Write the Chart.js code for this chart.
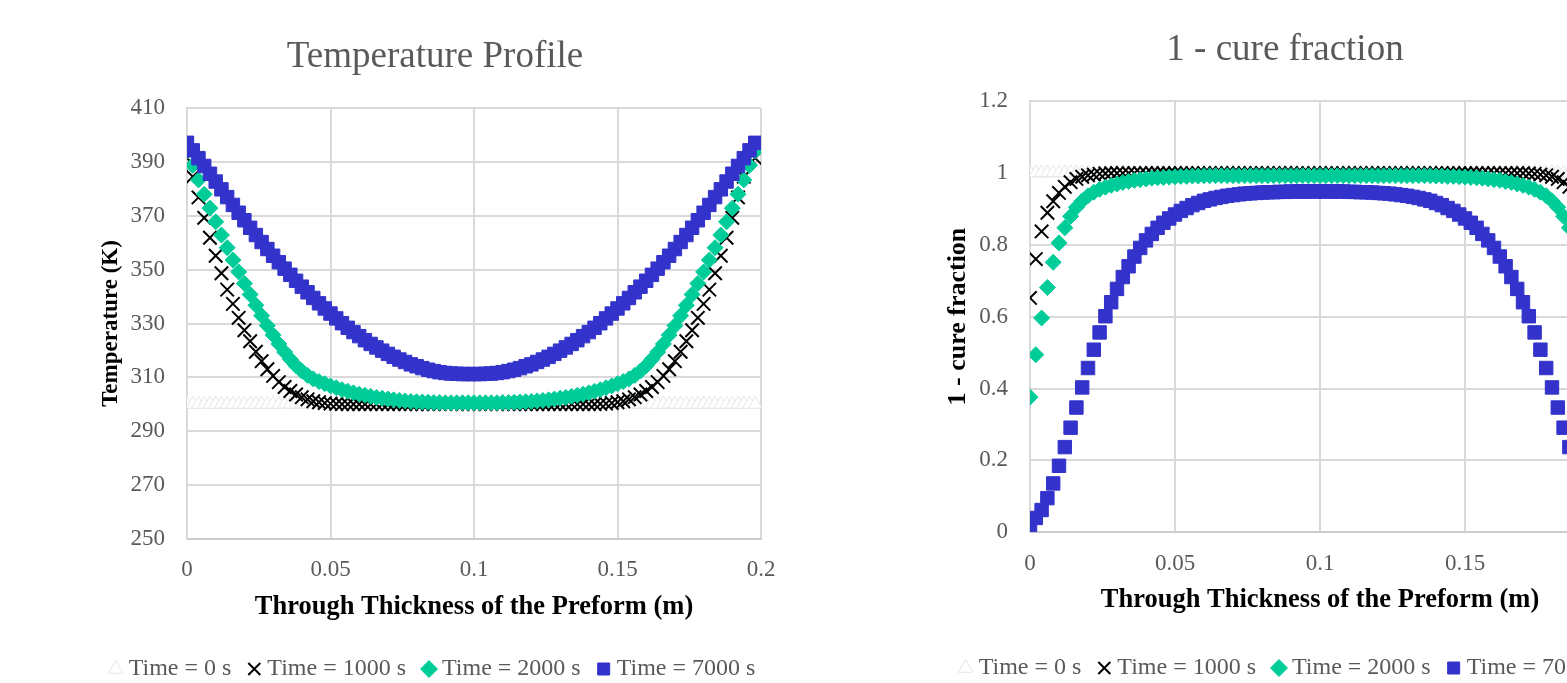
<!DOCTYPE html>
<html>
<head>
<meta charset="utf-8">
<script src="https://cdn.jsdelivr.net/npm/chart.js@4.4.0/dist/chart.umd.min.js"></script>
<style>
  html, body { margin: 0; padding: 0; background: #fff; overflow: hidden; width: 1567px; height: 683px; }
  canvas { position: absolute; top: 0; }
  #tempChart { left: 0; }
  #cureChart { left: 850px; }
</style>
</head>
<body>
<canvas id="tempChart" width="850" height="683"></canvas>
<canvas id="cureChart" width="850" height="683"></canvas>
<script>
// positions through the preform (m)
const xs = [
  0, 0.002, 0.004, 0.006, 0.008, 0.01, 0.012, 0.014, 0.016, 0.018,
  0.02, 0.022, 0.024, 0.026, 0.028, 0.03, 0.032, 0.034, 0.036, 0.038,
  0.04, 0.042, 0.044, 0.046, 0.048, 0.05, 0.052, 0.054, 0.056, 0.058,
  0.06, 0.062, 0.064, 0.066, 0.068, 0.07, 0.072, 0.074, 0.076, 0.078,
  0.08, 0.082, 0.084, 0.086, 0.088, 0.09, 0.092, 0.094, 0.096, 0.098,
  0.1, 0.102, 0.104, 0.106, 0.108, 0.11, 0.112, 0.114, 0.116, 0.118,
  0.12, 0.122, 0.124, 0.126, 0.128, 0.13, 0.132, 0.134, 0.136, 0.138,
  0.14, 0.142, 0.144, 0.146, 0.148, 0.15, 0.152, 0.154, 0.156, 0.158,
  0.16, 0.162, 0.164, 0.166, 0.168, 0.17, 0.172, 0.174, 0.176, 0.178,
  0.18, 0.182, 0.184, 0.186, 0.188, 0.19, 0.192, 0.194, 0.196, 0.198
];

const seriesNames = ['Time = 0 s', 'Time = 1000 s', 'Time = 2000 s', 'Time = 7000 s'];

// temperature (K)
const temp0 = [
  300, 300, 300, 300, 300, 300, 300, 300, 300, 300,
  300, 300, 300, 300, 300, 300, 300, 300, 300, 300,
  300, 300, 300, 300, 300, 300, 300, 300, 300, 300,
  300, 300, 300, 300, 300, 300, 300, 300, 300, 300,
  300, 300, 300, 300, 300, 300, 300, 300, 300, 300,
  300, 300, 300, 300, 300, 300, 300, 300, 300, 300,
  300, 300, 300, 300, 300, 300, 300, 300, 300, 300,
  300, 300, 300, 300, 300, 300, 300, 300, 300, 300,
  300, 300, 300, 300, 300, 300, 300, 300, 300, 300,
  300, 300, 300, 300, 300, 300, 300, 300, 300, 300
];
const temp1000 = [
  391.5, 384.6, 376.9, 369.3, 361.9, 355.2, 348.7, 342.6, 337.3, 332.1,
  327.5, 323.4, 319.5, 316.0, 313.0, 310.5, 308.2, 306.4, 304.9, 303.6,
  302.6, 301.8, 301.1, 300.7, 300.4, 300.2, 300.1, 300.0, 300.0, 300.0,
  300.0, 300.0, 300.0, 300.0, 300.0, 300.0, 300.0, 300.0, 300.0, 300.0,
  300.0, 300.0, 300.0, 300.0, 300.0, 300.0, 300.0, 300.0, 300.0, 300.0,
  300.0, 300.0, 300.0, 300.0, 300.0, 300.0, 300.0, 300.0, 300.0, 300.0,
  300.0, 300.0, 300.0, 300.0, 300.0, 300.0, 300.0, 300.0, 300.0, 300.0,
  300.0, 300.0, 300.1, 300.2, 300.4, 300.7, 301.1, 301.8, 302.6, 303.6,
  304.9, 306.4, 308.2, 310.5, 313.0, 316.0, 319.5, 323.4, 327.5, 332.1,
  337.3, 342.6, 348.7, 355.2, 361.9, 369.3, 376.9, 384.6, 391.5, 391.5
];
const temp2000 = [
  394.2, 388.8, 383.4, 378.1, 372.9, 367.8, 362.9, 358.2, 353.6, 349.2,
  344.9, 340.8, 336.8, 332.9, 329.2, 325.7, 322.4, 319.4, 316.7, 314.3,
  312.3, 310.7, 309.4, 308.4, 307.6, 306.8, 306.1, 305.4, 304.8, 304.2,
  303.7, 303.3, 302.9, 302.5, 302.2, 301.9, 301.6, 301.4, 301.2, 301.0,
  300.9, 300.8, 300.7, 300.6, 300.6, 300.5, 300.5, 300.5, 300.5, 300.5,
  300.5, 300.5, 300.5, 300.5, 300.5, 300.6, 300.6, 300.7, 300.8, 300.9,
  301.0, 301.2, 301.4, 301.6, 301.9, 302.2, 302.5, 302.9, 303.3, 303.7,
  304.2, 304.8, 305.4, 306.1, 306.8, 307.6, 308.4, 309.4, 310.7, 312.3,
  314.3, 316.7, 319.4, 322.4, 325.7, 329.2, 332.9, 336.8, 340.8, 344.9,
  349.2, 353.6, 358.2, 362.9, 367.8, 372.9, 378.1, 383.4, 388.8, 394.2
];
const temp7000 = [
  397.2, 394.4, 391.5, 388.6, 385.7, 382.8, 379.9, 377.0, 374.1, 371.2,
  368.4, 365.6, 362.9, 360.3, 357.7, 355.2, 352.8, 350.4, 348.1, 345.9,
  343.7, 341.6, 339.5, 337.5, 335.6, 333.7, 331.9, 330.1, 328.4, 326.8,
  325.3, 323.8, 322.4, 321.1, 319.9, 318.7, 317.6, 316.6, 315.7, 314.8,
  314.1, 313.4, 312.8, 312.3, 311.9, 311.6, 311.4, 311.3, 311.2, 311.2,
  311.2, 311.2, 311.3, 311.4, 311.6, 311.9, 312.3, 312.8, 313.4, 314.1,
  314.8, 315.7, 316.6, 317.6, 318.7, 319.9, 321.1, 322.4, 323.8, 325.3,
  326.8, 328.4, 330.1, 331.9, 333.7, 335.6, 337.5, 339.5, 341.6, 343.7,
  345.9, 348.1, 350.4, 352.8, 355.2, 357.7, 360.3, 362.9, 365.6, 368.4,
  371.2, 374.1, 377.0, 379.9, 382.8, 385.7, 388.6, 391.5, 394.4, 397.2
];

// 1 - cure fraction
const cure0 = [
  1, 1, 1, 1, 1, 1, 1, 1, 1, 1,
  1, 1, 1, 1, 1, 1, 1, 1, 1, 1,
  1, 1, 1, 1, 1, 1, 1, 1, 1, 1,
  1, 1, 1, 1, 1, 1, 1, 1, 1, 1,
  1, 1, 1, 1, 1, 1, 1, 1, 1, 1,
  1, 1, 1, 1, 1, 1, 1, 1, 1, 1,
  1, 1, 1, 1, 1, 1, 1, 1, 1, 1,
  1, 1, 1, 1, 1, 1, 1, 1, 1, 1,
  1, 1, 1, 1, 1, 1, 1, 1, 1, 1,
  1, 1, 1, 1, 1, 1, 1, 1, 1, 1
];
const cure1000 = [
  0.652, 0.760, 0.837, 0.889, 0.921, 0.944, 0.961, 0.974, 0.983, 0.989,
  0.993, 0.995, 0.997, 0.998, 0.999, 0.999, 0.999, 0.999, 0.999, 0.999,
  0.999, 0.999, 0.999, 0.999, 0.999, 0.999, 0.999, 0.999, 0.999, 0.999,
  0.999, 0.999, 0.999, 0.999, 0.999, 0.999, 0.999, 0.999, 0.999, 0.999,
  0.999, 0.999, 0.999, 0.999, 0.999, 0.999, 0.999, 0.999, 0.999, 0.999,
  0.999, 0.999, 0.999, 0.999, 0.999, 0.999, 0.999, 0.999, 0.999, 0.999,
  0.999, 0.999, 0.999, 0.999, 0.999, 0.999, 0.999, 0.999, 0.999, 0.999,
  0.999, 0.999, 0.999, 0.999, 0.999, 0.999, 0.999, 0.999, 0.999, 0.999,
  0.999, 0.999, 0.999, 0.999, 0.999, 0.999, 0.998, 0.997, 0.995, 0.993,
  0.989, 0.983, 0.974, 0.961, 0.944, 0.921, 0.889, 0.837, 0.760, 0.652
];
const cure2000 = [
  0.376, 0.494, 0.596, 0.681, 0.751, 0.805, 0.847, 0.879, 0.904, 0.922,
  0.936, 0.946, 0.954, 0.960, 0.965, 0.969, 0.973, 0.976, 0.979, 0.981,
  0.983, 0.985, 0.986, 0.987, 0.988, 0.989, 0.990, 0.990, 0.991, 0.991,
  0.992, 0.992, 0.992, 0.992, 0.992, 0.992, 0.992, 0.992, 0.992, 0.992,
  0.992, 0.992, 0.992, 0.992, 0.992, 0.992, 0.992, 0.992, 0.992, 0.992,
  0.992, 0.992, 0.992, 0.992, 0.992, 0.992, 0.992, 0.992, 0.992, 0.992,
  0.992, 0.992, 0.992, 0.992, 0.992, 0.992, 0.992, 0.992, 0.992, 0.992,
  0.991, 0.991, 0.990, 0.990, 0.989, 0.988, 0.987, 0.986, 0.985, 0.983,
  0.981, 0.979, 0.976, 0.973, 0.969, 0.965, 0.960, 0.954, 0.946, 0.936,
  0.922, 0.904, 0.879, 0.847, 0.805, 0.751, 0.681, 0.596, 0.494, 0.376
];
const cure7000 = [
  0.020, 0.040, 0.062, 0.095, 0.136, 0.185, 0.237, 0.291, 0.347, 0.403,
  0.457, 0.508, 0.556, 0.601, 0.640, 0.677, 0.710, 0.740, 0.767, 0.791,
  0.812, 0.830, 0.847, 0.861, 0.873, 0.884, 0.894, 0.902, 0.910, 0.916,
  0.922, 0.926, 0.930, 0.933, 0.936, 0.938, 0.940, 0.942, 0.943, 0.944,
  0.945, 0.946, 0.946, 0.947, 0.947, 0.948, 0.948, 0.948, 0.948, 0.948,
  0.948, 0.948, 0.948, 0.948, 0.948, 0.947, 0.947, 0.946, 0.946, 0.945,
  0.944, 0.943, 0.942, 0.940, 0.938, 0.936, 0.933, 0.930, 0.926, 0.922,
  0.916, 0.910, 0.902, 0.894, 0.884, 0.873, 0.861, 0.847, 0.830, 0.812,
  0.791, 0.767, 0.740, 0.710, 0.677, 0.640, 0.601, 0.556, 0.508, 0.457,
  0.403, 0.347, 0.291, 0.237, 0.185, 0.136, 0.095, 0.062, 0.040, 0.020
];

const serif = "'Liberation Serif', 'Times New Roman', serif";
const gray = '#595959';
const gridColor = '#d9d9d9';

const styles = [
  { pointStyle: 'triangle', pointRadius: 8, backgroundColor: '#ffffff', borderColor: '#e6e6e6', borderWidth: 1, order: 4 },
  { pointStyle: 'crossRot', pointRadius: 9.5, backgroundColor: '#000000', borderColor: '#000000', borderWidth: 2, order: 3 },
  { pointStyle: 'rectRot', pointRadius: 8, backgroundColor: '#00CC99', borderColor: '#00CC99', borderWidth: 1, order: 2 },
  { pointStyle: 'rect', pointRadius: 9.5, backgroundColor: '#3333CC', borderColor: '#3333CC', borderWidth: 1, order: 1 }
];

function toPoints(values) {
  return xs.map((x, i) => ({ x: x, y: values[i] }));
}

function tickText(v) {
  return String(Number(v.toFixed(3)));
}

function makeChart(id, title, yTitle, series, yMin, yMax, yStep, lay) {
  const datasets = series.map((vals, i) => Object.assign({
    label: seriesNames[i],
    data: toPoints(vals),
    pointHoverRadius: styles[i].pointRadius,
    pointBorderWidth: styles[i].borderWidth
  }, styles[i]));

  return new Chart(document.getElementById(id), {
    type: 'scatter',
    data: { datasets },
    options: {
      responsive: false,
      animation: false,
      layout: { padding: { left: 20, right: 0, top: 0, bottom: lay.bottom } },
      plugins: {
        tooltip: { enabled: false },
        title: {
          display: true,
          text: title,
          color: gray,
          font: { family: serif, size: 37, weight: 'normal' },
          padding: { top: lay.titleTop, bottom: lay.titleBottom }
        },
        legend: {
          position: 'bottom',
          reverse: true,
          labels: {
            usePointStyle: true,
            boxWidth: 2,
            boxHeight: 12,
            padding: 22,
            color: gray,
            font: { family: serif, size: 24 }
          }
        }
      },
      scales: {
        x: {
          type: 'linear',
          min: 0,
          max: 0.2,
          afterFit: (s) => { s.height = lay.xHeight; },
          ticks: { stepSize: 0.05, color: gray, padding: lay.xTickPad, font: { family: serif, size: 23 }, callback: tickText },
          grid: { color: gridColor, lineWidth: 2, drawTicks: false },
          border: { color: '#cccccc', width: 2 },
          title: {
            display: true,
            text: 'Through Thickness of the Preform (m)',
            color: '#000',
            font: { family: serif, size: 26.5, weight: 'bold' },
            padding: { top: 0, bottom: lay.xTitleBottom }
          }
        },
        y: {
          min: yMin,
          max: yMax,
          afterFit: (s) => { s.width = lay.yWidth; },
          ticks: { stepSize: yStep, color: gray, padding: 22, font: { family: serif, size: 23 }, callback: tickText },
          grid: { color: gridColor, lineWidth: 2, drawTicks: false },
          border: { color: gridColor, width: 2 },
          title: {
            display: true,
            text: yTitle,
            color: '#000',
            font: { family: serif, size: lay.yTitleSize, weight: 'bold', lineHeight: 1 },
            padding: { top: lay.yTitleShift, bottom: 0 }
          }
        },
        // empty right-hand margin
        yR: {
          position: 'right',
          display: true,
          afterFit: (s) => { s.width = lay.rightWidth; },
          ticks: { display: false },
          grid: { display: false },
          border: { display: false }
        }
      }
    }
  });
}

makeChart('tempChart', 'Temperature Profile', 'Temperature (K)',
  [temp0, temp1000, temp2000, temp7000], 250, 410, 20,
  { bottom: -8, titleTop: 35, titleBottom: 29,
    xHeight: 96.4, xTickPad: 17.6, xTitleBottom: 12.1,
    yWidth: 167, yTitleSize: 23, yTitleShift: 79.5, rightWidth: 89 });

makeChart('cureChart', '1 - cure fraction', '1 - cure fraction',
  [cure0, cure1000, cure2000, cure7000], 0, 1.2, 0.2,
  { bottom: -7, titleTop: 28, titleBottom: 28.5,
    xHeight: 101.7, xTickPad: 17.9, xTitleBottom: 18.1,
    yWidth: 160, yTitleSize: 26, yTitleShift: 75, rightWidth: 90 });
</script>
</body>
</html>
